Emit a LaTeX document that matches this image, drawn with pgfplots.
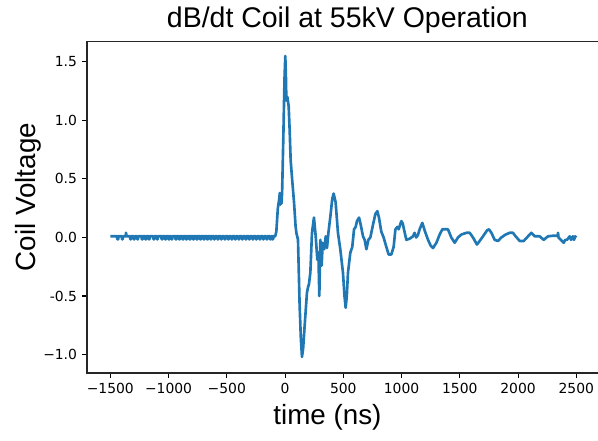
\documentclass[border=0pt]{standalone}
\usepackage{pgfplots}
\pgfplotsset{compat=1.18}
\usepackage{fontspec}
\setmainfont{Liberation Sans}
\newfontfamily\dejavu{DejaVu Sans}
\definecolor{mplblue}{HTML}{1F77B4}
\begin{document}
\begin{tikzpicture}
\begin{axis}[
  scale only axis, width=369.1pt, height=239pt,
  xmin=-1700, xmax=2700, ymin=-1.157, ymax=1.677,
  xtick={-1500,-1000,-500,0,500,1000,1500,2000,2500},
  xticklabels={−1500,−1000,−500,0,500,1000,1500,2000,2500},
  ytick={-1,-0.5,0,0.5,1,1.5},
  yticklabels={−1.0,-0.5,0.0,0.5,1.0,1.5},
  tick align=outside, tick pos=left, major tick length=3.5pt,
  every tick/.style={black, line width=0.8pt},
  axis line style={line width=0.8pt, black!85},
  ticklabel style={font=\dejavu\fontsize{10}{12}\selectfont, inner sep=0pt},
  xticklabel style={anchor=north, yshift=-3.5pt},
  yticklabel style={anchor=east, xshift=-3.5pt},
  every axis title shift=0pt,
  title={dB/dt Coil at 55kV Operation},
  title style={font=\fontsize{20.5}{24}\selectfont, at={(axis description cs:0.508,1.042)}, anchor=base, yshift=0pt, inner sep=0pt},
  xlabel={time (ns)},
  xlabel style={font=\fontsize{20}{24}\selectfont, at={(axis description cs:0.469,-0.1566)}, anchor=base, inner sep=0pt},
  ylabel={Coil Voltage},
  ylabel style={font=\fontsize{20}{24}\selectfont, at={(axis description cs:-0.1013,0.53)}, anchor=base, inner sep=0pt},
  clip=true,
]
\addplot[mplblue, line width=1.9pt, line join=round] coordinates {
(-1500,0.01) (-1440,0.01) (-1440,-0.015) (-1432,-0.015) (-1432,0.01) (-1400,0.01) (-1400,-0.015) (-1392,-0.015) (-1392,0.01)
(-1368,0.01) (-1365,0.04) (-1360,0.01)
(-1330,0.01) (-1330,-0.015) (-1322,-0.015) (-1322,0.01) (-1300,0.01) (-1300,-0.015) (-1292,-0.015) (-1292,0.01)
(-1270,0.01) (-1270,-0.015) (-1262,-0.015) (-1262,0.01) (-1230,0.01) (-1230,-0.015) (-1222,-0.015) (-1222,0.01)
(-1200,0.01) (-1200,-0.015) (-1192,-0.015) (-1192,0.01) (-1170,0.01) (-1170,-0.015) (-1162,-0.015) (-1162,0.01)
(-1130,0.01) (-1130,-0.015) (-1122,-0.015) (-1122,0.01) (-1100,0.01) (-1100,-0.015) (-1092,-0.015) (-1092,0.01)
(-1060,0.01) (-1060,-0.015) (-1052,-0.015) (-1052,0.01) (-1030,0.01) (-1030,-0.015) (-1022,-0.015) (-1022,0.01)
(-1000,0.01) (-1000,-0.015) (-992,-0.015) (-992,0.01) (-975,0.01) (-975,-0.015) (-967,-0.015) (-967,0.01)
(-940,0.01) (-940,-0.015) (-932,-0.015) (-932,0.01) (-910,0.01) (-910,-0.015) (-902,-0.015) (-902,0.01)
(-880,0.01) (-880,-0.015) (-872,-0.015) (-872,0.01) (-850,0.01) (-850,-0.015) (-842,-0.015) (-842,0.01)
(-820,0.01) (-820,-0.015) (-812,-0.015) (-812,0.01) (-790,0.01) (-790,-0.015) (-782,-0.015) (-782,0.01)
(-760,0.01) (-760,-0.015) (-752,-0.015) (-752,0.01) (-730,0.01) (-730,-0.015) (-722,-0.015) (-722,0.01)
(-700,0.01) (-700,-0.015) (-692,-0.015) (-692,0.01) (-670,0.01) (-670,-0.015) (-662,-0.015) (-662,0.01)
(-640,0.01) (-640,-0.015) (-632,-0.015) (-632,0.01) (-610,0.01) (-610,-0.015) (-602,-0.015) (-602,0.01)
(-580,0.01) (-580,-0.015) (-572,-0.015) (-572,0.01) (-550,0.01) (-550,-0.015) (-542,-0.015) (-542,0.01)
(-520,0.01) (-520,-0.015) (-512,-0.015) (-512,0.01) (-490,0.01) (-490,-0.015) (-482,-0.015) (-482,0.01)
(-460,0.01) (-460,-0.015) (-452,-0.015) (-452,0.01) (-430,0.01) (-430,-0.015) (-422,-0.015) (-422,0.01)
(-400,0.01) (-400,-0.015) (-392,-0.015) (-392,0.01) (-370,0.01) (-370,-0.015) (-362,-0.015) (-362,0.01)
(-340,0.01) (-340,-0.015) (-332,-0.015) (-332,0.01) (-310,0.01) (-310,-0.015) (-302,-0.015) (-302,0.01)
(-280,0.01) (-280,-0.015) (-272,-0.015) (-272,0.01) (-250,0.01) (-250,-0.015) (-242,-0.015) (-242,0.01)
(-220,0.01) (-220,-0.015) (-212,-0.015) (-212,0.01) (-190,0.01) (-190,-0.015) (-182,-0.015) (-182,0.01)
(-160,0.01) (-160,-0.015) (-152,-0.015) (-152,0.01) (-130,0.01) (-130,-0.015) (-122,-0.015) (-122,0.01)
(-110,0.01) (-110,-0.015) (-102,-0.015) (-102,0.01)
(-85,0.01) (-75,0.05) (-62,0.25) (-50,0.33) (-45,0.38) (-40,0.28) (-35,0.35) (-30,0.29) (-25,0.40)
(-15,0.85) (-5,1.35) (2,1.55) (8,1.35) (11,1.17) (20,1.20) (31,1.12) (40,0.90) (48,0.66)
(62,0.48) (77,0.30) (90,0.10) (97,0.04) (111,-0.02) (125,-0.58) (135,-0.85) (145,-1.02) (155,-0.95)
(168,-0.755) (188,-0.47) (198,-0.42) (205,-0.40) (217,-0.30) (231,0.04) (248,0.17) (263,0.01)
(277,-0.19) (286,-0.13) (294,-0.50) (303,-0.02) (314,-0.24) (323,-0.045) (337,-0.10) (349,0.01)
(360,-0.09) (372,0.04) (389,0.18) (405,0.33) (417,0.375) (434,0.30) (454,0.04) (474,-0.10)
(497,-0.30) (510,-0.50) (520,-0.60) (530,-0.50) (540,-0.30) (560,-0.13) (577,-0.08) (592,0.07)
(606,0.09) (617,0.14) (635,0.17) (649,0.11) (669,0.01) (683,-0.02) (698,-0.10) (715,-0.02)
(732,0.0) (755,0.11) (775,0.20) (792,0.225) (806,0.17) (826,0.05) (846,0.0) (869,-0.08)
(889,-0.145) (912,-0.145) (932,-0.08) (947,0.07) (964,0.09) (975,0.07) (998,0.14) (1010,0.12)
(1025,0.05) (1041,-0.02) (1070,-0.01) (1098,0.01) (1112,0.04) (1125,0.0) (1140,0.02) (1155,0.07) (1178,0.125)
(1198,0.06) (1227,-0.02) (1250,-0.07) (1270,-0.09) (1299,-0.045) (1327,0.025) (1350,0.07)
(1398,0.07) (1427,0.0) (1456,-0.045) (1484,0.0) (1513,0.025) (1556,0.04) (1585,0.04)
(1613,0.0) (1647,-0.06) (1670,-0.03) (1699,0.01) (1733,0.06) (1750,0.07) (1771,0.04)
(1799,-0.02) (1828,-0.03) (1856,0.0) (1893,0.025) (1928,0.04) (1956,0.04) (1979,0.01)
(2014,-0.03) (2048,-0.03) (2076,0.0) (2114,0.04) (2143,0.01) (2185,0.01) (2220,-0.02)
(2257,0.01) (2300,0.015) (2340,0.015) (2343,0.04) (2347,0.0) (2391,-0.045) (2405,-0.02) (2420,-0.02)
(2443,0.01) (2455,-0.02) (2470,0.01) (2480,-0.02) (2490,0.01) (2500,0.0)
};
\end{axis}
\pgfresetboundingbox
\path[use as bounding box] ([xshift=-62.64pt,yshift=-48.24pt]current axis.south west) rectangle ([xshift=367.92pt,yshift=268.56pt]current axis.south west);
\end{tikzpicture}
\end{document}
